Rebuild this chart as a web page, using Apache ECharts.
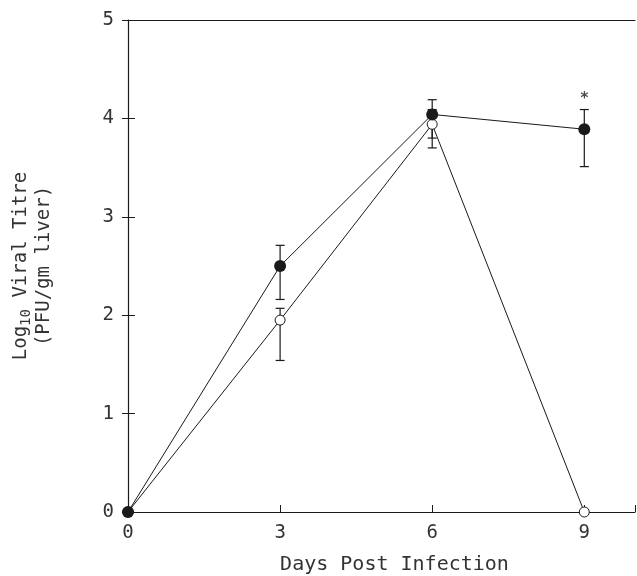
<!DOCTYPE html>
<html>
<head>
<meta charset="utf-8">
<script src="https://cdn.jsdelivr.net/npm/echarts@6/dist/echarts.min.js"></script>
<style>
  html, body { margin: 0; padding: 0; background: #fff; }
  #main { width: 637px; height: 576px; }
</style>
</head>
<body>
<div id="main"></div>
<script>
// days post infection
var days = [0, 3, 6, 9];
// filled circles
var filledMean = [0, 2.50, 4.04, 3.89];
var filledLow = [null, 2.16, 3.80, 3.51];
var filledHigh = [null, 2.71, 4.19, 4.09];
// open circles
var openMean = [0, 1.95, 3.94, 0];
var openLow = [null, 1.54, 3.70, null];
var openHigh = [null, 2.07, 4.09, null];
// significance marker
var starDay = [9];
var starValue = [4.2];
var yTicks = [0, 1, 2, 3, 4, 5];

var font = 'DejaVu Sans Mono';
var ink = '#1a1a1a';
var textInk = '#333';

function pairs(xs, ys) {
    var out = [];
    for (var i = 0; i < xs.length; i++) out.push([xs[i], ys[i]]);
    return out;
}
function errData(xs, lo, hi) {
    var out = [];
    for (var i = 0; i < xs.length; i++) {
        if (lo[i] != null) out.push([xs[i], lo[i], hi[i]]);
    }
    return out;
}
function renderErr(params, api) {
    var x = api.value(0);
    var lo = api.coord([x, api.value(1)]);
    var hi = api.coord([x, api.value(2)]);
    var w = 4.5;
    var style = { stroke: ink, lineWidth: 1.2 };
    return {
        type: 'group',
        children: [
            { type: 'line', shape: { x1: lo[0], y1: lo[1], x2: hi[0], y2: hi[1] }, style: style },
            { type: 'line', shape: { x1: lo[0] - w, y1: lo[1], x2: lo[0] + w, y2: lo[1] }, style: style },
            { type: 'line', shape: { x1: hi[0] - w, y1: hi[1], x2: hi[0] + w, y2: hi[1] }, style: style }
        ]
    };
}

var chart = echarts.init(document.getElementById('main'));
var option = {
    animation: false,
    grid: { left: 128, right: 2, top: 20, bottom: 64, outerBoundsMode: 'none', containLabel: false },
    xAxis: [{
        type: 'value', min: 0, max: 10, interval: 3,
        axisLine: { show: true, lineStyle: { color: ink, width: 1.2 } },
        axisTick: { show: true, inside: true, length: 7, lineStyle: { color: ink } },
        splitLine: { show: false },
        axisLabel: {
            color: textInk, fontFamily: font, fontSize: 19, margin: 12,
            formatter: function (v) { return days.indexOf(v) >= 0 ? String(v) : ''; }
        },
        name: 'Days Post Infection', nameLocation: 'middle', nameGap: 43,
        nameTextStyle: { color: textInk, fontFamily: font, fontSize: 20, padding: [0, 0, 0, 26] }
    }, {
        type: 'value', position: 'top', min: 0, max: 10,
        axisLine: { show: true, onZero: false, lineStyle: { color: ink, width: 1.2 } },
        axisTick: { show: false }, axisLabel: { show: false }, splitLine: { show: false }
    }],
    yAxis: [{
        type: 'value', min: 0, max: 5, interval: 1,
        axisLine: { show: true, lineStyle: { color: ink, width: 1.2 } },
        axisTick: { show: true, inside: true, length: 7, lineStyle: { color: ink } },
        splitLine: { show: false },
        axisLabel: {
            color: textInk, fontFamily: font, fontSize: 19, margin: 14,
            formatter: function (v) { return yTicks.indexOf(v) >= 0 ? String(v) : ''; }
        },
        name: '{a|Log}{b|10}{a| Viral Titre}\n{a|(PFU/gm liver)}',
        nameLocation: 'middle', nameRotate: 90, nameGap: 72,
        nameTextStyle: {
            color: textInk, fontFamily: font, fontSize: 19, lineHeight: 23,
            rich: {
                a: { fontFamily: font, fontSize: 19, color: textInk, lineHeight: 23 },
                b: { fontFamily: font, fontSize: 14, color: textInk, lineHeight: 23, verticalAlign: 'bottom', padding: [8, 0, 0, 0] }
            }
        }
    }, {
        type: 'value', position: 'right', min: 0, max: 5, interval: 1,
        axisLine: { show: false },
        axisTick: { show: true, inside: true, length: 6, lineStyle: { color: ink } },
        axisLabel: { show: false }, splitLine: { show: false }
    }],
    series: [{
        type: 'custom', renderItem: renderErr, data: errData(days, filledLow, filledHigh), z: 1
    }, {
        type: 'custom', renderItem: renderErr, data: errData(days, openLow, openHigh), z: 1
    }, {
        type: 'line', data: pairs(days, openMean), symbol: 'circle', symbolSize: 10,
        lineStyle: { color: ink, width: 1 },
        itemStyle: { color: '#fff', borderColor: ink, borderWidth: 1 }, z: 3
    }, {
        type: 'line', data: pairs(days, filledMean), symbol: 'circle', symbolSize: 12,
        lineStyle: { color: ink, width: 1 },
        itemStyle: { color: ink, borderColor: ink, borderWidth: 0 }, z: 4
    }, {
        type: 'scatter', data: pairs(starDay, starValue), symbolSize: 0,
        label: { show: true, position: 'inside', formatter: '*', color: ink, fontFamily: 'DejaVu Sans', fontSize: 15, fontWeight: 'bold' }
    }]
};
chart.setOption(option);
</script>
</body>
</html>
